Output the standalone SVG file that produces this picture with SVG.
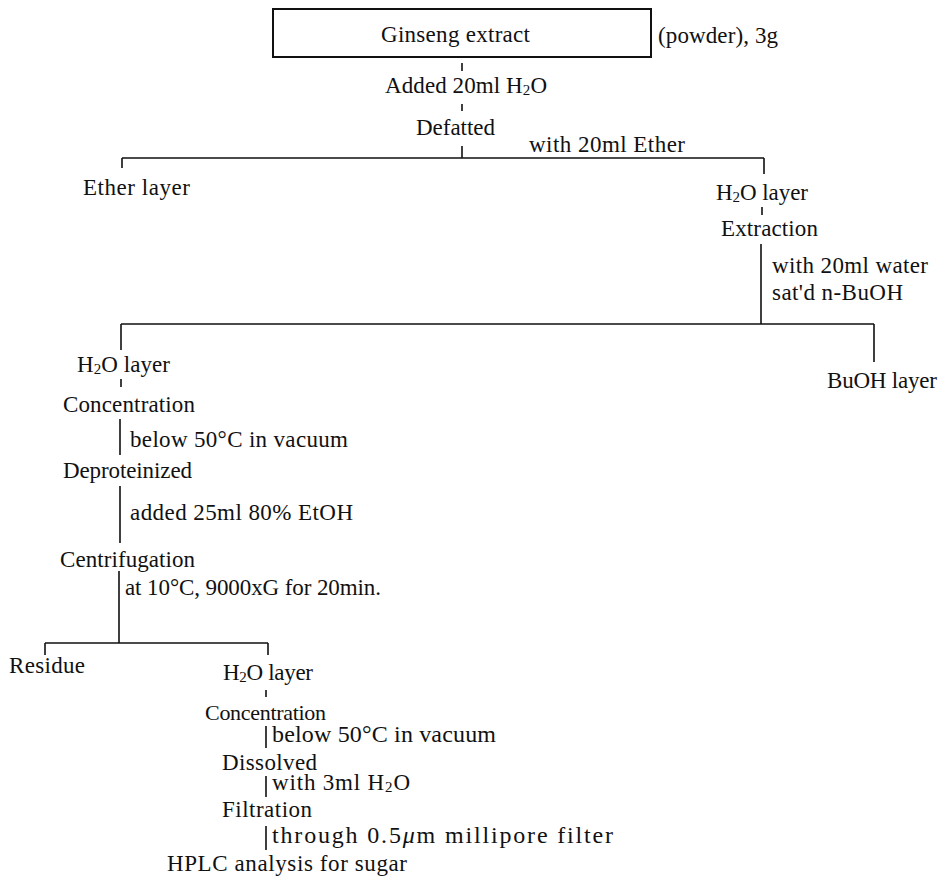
<svg xmlns="http://www.w3.org/2000/svg" width="948" height="878" viewBox="0 0 948 878">
<style>
text{font-family:"Liberation Serif","Times New Roman",serif;font-size:23px;fill:#111}
.s{font-size:15px}
.sm{font-size:22px}
.lg{font-size:24px}
.ln{stroke:#111;stroke-width:1.6;fill:none}
.box{stroke:#111;stroke-width:2;fill:#fff}
</style>
<rect width="948" height="878" fill="#fff"/>
<g id="connectors" class="ln">
<path d="M462 63V71M462 104V111M462 146V158M122 158H764M122 158V168M764 158V174"/>
<path d="M762 207V215M761 244V324M121 324H874M121 324V350M874 324V362"/>
<path d="M121 379V387M120 419V455M120 486V543M119 571V643M45 643H268M45 643V655M268 643V655"/>
<path d="M266 690V697M266 726V748M266 776V797M266 826V850"/>
</g>
<g id="n-ginseng"><rect class="box" x="273" y="9" width="378" height="48"/><text x="381" y="42" textLength="149">Ginseng extract</text></g>
<g id="n-powder"><text x="658" y="43" textLength="120">(powder), 3g</text></g>
<g id="n-added"><text x="385" y="93" textLength="162">Added 20ml H<tspan class="s" dy="2">2</tspan><tspan dy="-2">O</tspan></text></g>
<g id="n-defatted"><text x="416" y="135" textLength="79">Defatted</text></g>
<g id="l-ether20"><text x="529" y="152" textLength="156">with 20ml Ether</text></g>
<g id="n-etherlayer"><text x="83" y="195" textLength="107">Ether layer</text></g>
<g id="n-h2o1"><text x="716" y="200" textLength="92">H<tspan class="s" dy="2">2</tspan><tspan dy="-2">O layer</tspan></text></g>
<g id="n-extraction"><text x="721" y="236" textLength="97">Extraction</text></g>
<g id="l-buoh"><text x="772" y="273" textLength="156">with 20ml water</text><text x="772" y="300" textLength="131">sat'd n-BuOH</text></g>
<g id="n-buohlayer"><text x="827" y="388" textLength="110">BuOH layer</text></g>
<g id="n-h2o2"><text x="77" y="372" textLength="93">H<tspan class="s" dy="2">2</tspan><tspan dy="-2">O layer</tspan></text></g>
<g id="n-conc1"><text x="63" y="412" textLength="132">Concentration</text></g>
<g id="l-below1"><text x="130" y="447" textLength="218">below 50°C in vacuum</text></g>
<g id="n-deprot"><text x="63" y="478" textLength="129">Deproteinized</text></g>
<g id="l-etoh"><text x="130" y="520" textLength="223">added 25ml 80% EtOH</text></g>
<g id="n-centrif"><text x="60" y="567" textLength="135">Centrifugation</text></g>
<g id="l-at10"><text x="125" y="595" textLength="256">at 10°C, 9000xG for 20min.</text></g>
<g id="n-residue"><text x="9" y="673" textLength="76">Residue</text></g>
<g id="n-h2o3"><text x="223" y="680" textLength="90">H<tspan class="s" dy="2">2</tspan><tspan dy="-2">O layer</tspan></text></g>
<g id="n-conc2"><text class="sm" x="205" y="720" textLength="121">Concentration</text></g>
<g id="l-below2"><text class="lg" x="272" y="742" textLength="224">below 50°C in vacuum</text></g>
<g id="n-dissolved"><text x="222" y="770" textLength="95">Dissolved</text></g>
<g id="l-3ml"><text x="272" y="790" textLength="138">with 3ml H<tspan class="s" dy="2">2</tspan><tspan dy="-2">O</tspan></text></g>
<g id="n-filtration"><text x="222" y="817" textLength="90">Filtration</text></g>
<g id="l-through"><text class="lg" x="272" y="843" textLength="341">through 0.5<tspan font-style="italic">μ</tspan>m millipore filter</text></g>
<g id="n-hplc"><text x="167" y="871" textLength="240">HPLC analysis for sugar</text></g>
</svg>
